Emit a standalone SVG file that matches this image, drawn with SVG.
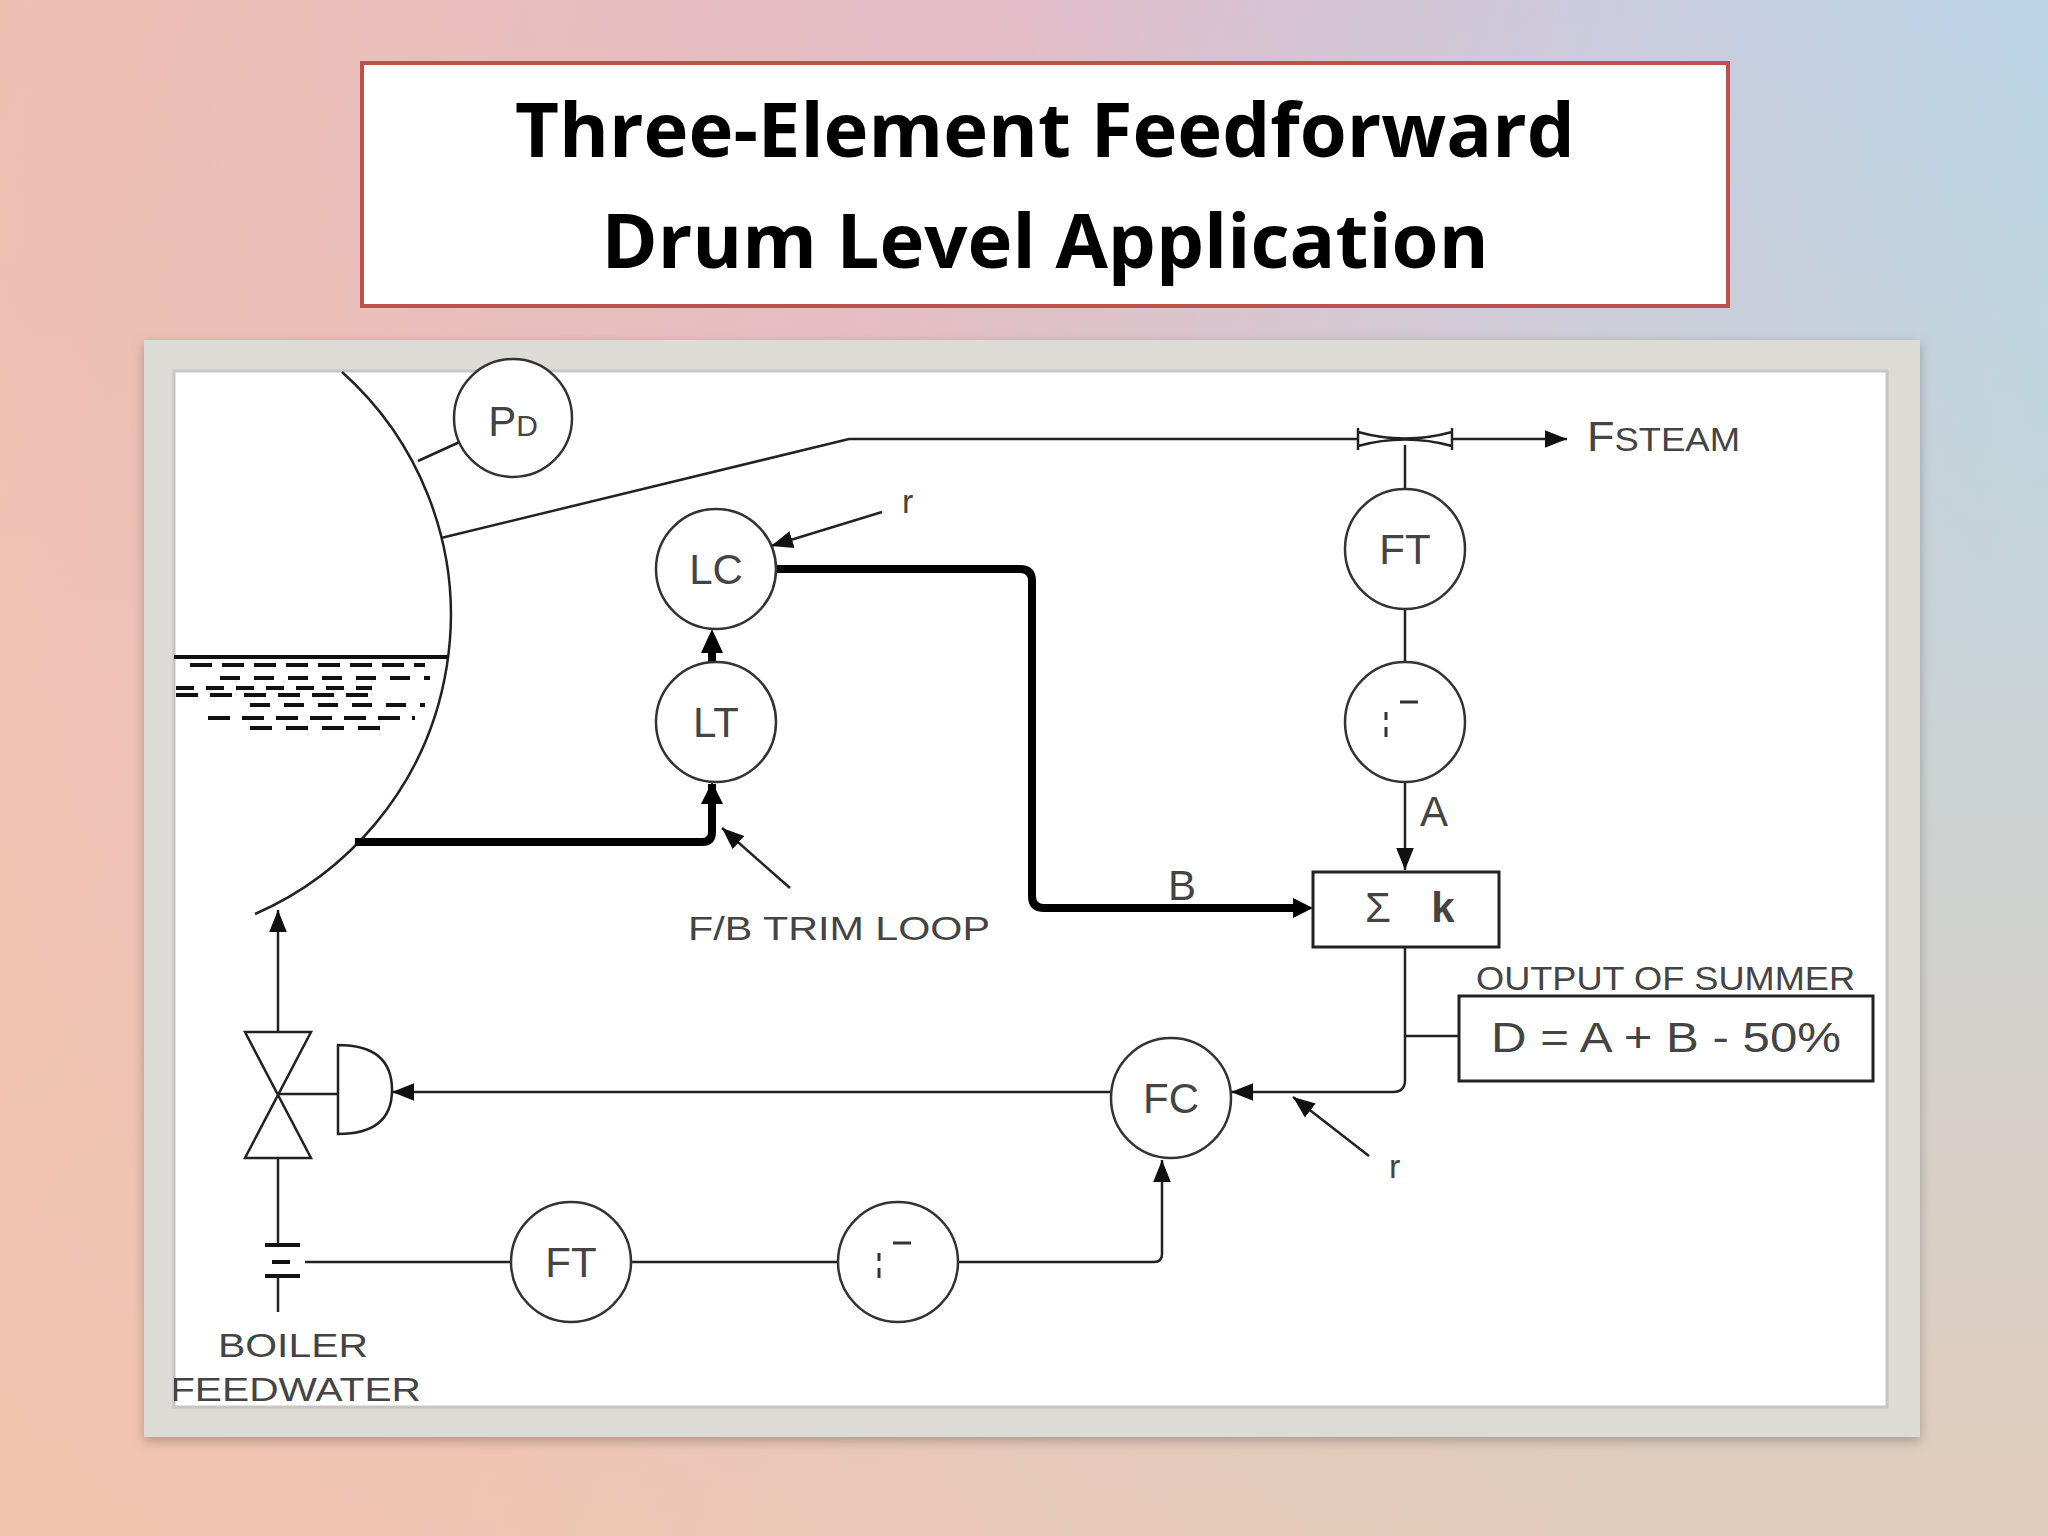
<svg xmlns="http://www.w3.org/2000/svg" width="2048" height="1536" viewBox="0 0 2048 1536">
<defs>
<linearGradient id="bg" x1="0" y1="0" x2="1" y2="0.3">
<stop offset="0" stop-color="#efc0b2"/><stop offset="0.45" stop-color="#e3bcc8"/><stop offset="0.75" stop-color="#c8cde0"/><stop offset="1" stop-color="#b4d8ea"/>
</linearGradient>
<linearGradient id="bg2" x1="0" y1="0" x2="0" y2="1">
<stop offset="0" stop-color="#f6c8a8" stop-opacity="0"/><stop offset="1" stop-color="#f6c8a8" stop-opacity="0.7"/>
</linearGradient>
<marker id="ahs" viewBox="0 0 10 10" refX="10" refY="5" markerWidth="22" markerHeight="22" markerUnits="userSpaceOnUse" orient="auto"><path d="M0,1L10,5L0,9z" fill="#111"/></marker>
<clipPath id="inner"><rect x="174" y="371" width="1713" height="1036"/></clipPath>
<filter id="sh" x="-5%" y="-5%" width="110%" height="110%"><feDropShadow dx="0" dy="4" stdDeviation="6" flood-color="#000" flood-opacity="0.25"/></filter>
</defs>
<style>
.ln{stroke:#222;stroke-width:2.5;fill:none}
.th{stroke:#000;stroke-width:8;fill:none;stroke-linejoin:round}
.ci{stroke:#333;stroke-width:2.5;fill:#fff}
.lb{font-family:"Liberation Sans",Arial,sans-serif;fill:#444;font-size:42px;text-anchor:middle}
.sm{font-family:"Liberation Sans",Arial,sans-serif;fill:#444;font-size:34px}
</style>
<rect width="2048" height="1536" fill="url(#bg)"/>
<rect width="2048" height="1536" fill="url(#bg2)"/>
<g id="title">
<rect x="362" y="63" width="1366" height="243" fill="#fff" stroke="#c0504d" stroke-width="4"/>
<text x="1045" y="157" font-family="Open Sans,'Liberation Sans',sans-serif" font-weight="bold" font-size="76" text-anchor="middle" fill="#000">Three-Element Feedforward</text>
<text x="1045" y="268" font-family="Open Sans,'Liberation Sans',sans-serif" font-weight="bold" font-size="76" text-anchor="middle" fill="#000">Drum Level Application</text>
</g>
<rect x="144" y="340" width="1776" height="1097" fill="#dddbd6" filter="url(#sh)"/>
<rect x="174" y="371" width="1713" height="1036" fill="#fff" stroke="#c8c6c2" stroke-width="3"/>
<g id="drum" clip-path="url(#inner)">
<path class="ln" d="M342,372 A326,326 0 0 1 255,914"/>
<line x1="174" y1="657" x2="449" y2="657" stroke="#111" stroke-width="4"/>
<g stroke="#111" stroke-width="4">
<line x1="190" y1="665" x2="425" y2="665" stroke-dasharray="22,10"/>
<line x1="220" y1="678" x2="430" y2="678" stroke-dasharray="20,14"/>
<line x1="176" y1="688" x2="372" y2="688" stroke-dasharray="18,12"/>
<line x1="176" y1="695" x2="380" y2="695" stroke-dasharray="22,12"/>
<line x1="250" y1="705" x2="425" y2="705" stroke-dasharray="20,14"/>
<line x1="208" y1="718" x2="415" y2="718" stroke-dasharray="22,12"/>
<line x1="250" y1="728" x2="385" y2="728" stroke-dasharray="22,14"/>
</g>
</g>
<g id="connectors">
<line class="ln" x1="418" y1="461" x2="464" y2="440"/>
<polyline class="ln" points="441,538 849,439 1358,439"/>
<line class="ln" x1="1452" y1="439" x2="1567" y2="439" marker-end="url(#ahs)"/>
<line class="ln" x1="1405" y1="445" x2="1405" y2="489"/>
<line class="ln" x1="1405" y1="609" x2="1405" y2="662"/>
<line class="ln" x1="1405" y1="782" x2="1405" y2="870" marker-end="url(#ahs)"/>
<path class="th" d="M355,842 H702 Q712,842 712,832 V784"/>
<path d="M712,782 l-11,22 h22z" fill="#000"/>
<line class="th" x1="712" y1="662" x2="712" y2="650"/>
<path d="M712,629 l-11,24 h22z" fill="#000"/>
<path class="th" d="M776,569 H1020 Q1032,569 1032,581 V896 Q1032,908 1044,908 H1296"/>
<path d="M1313,908 l-20,-10 v20z" fill="#000"/>
<line class="ln" x1="882" y1="512" x2="771" y2="546" marker-end="url(#ahs)"/>
<line class="ln" x1="790" y1="888" x2="722" y2="828" marker-end="url(#ahs)"/>
<path class="ln" d="M1405,947 V1080 Q1405,1092 1393,1092 H1231" marker-end="url(#ahs)"/>
<line class="ln" x1="1405" y1="1036" x2="1459" y2="1036"/>
<line class="ln" x1="1369" y1="1156" x2="1293" y2="1097" marker-end="url(#ahs)"/>
<line class="ln" x1="1111" y1="1092" x2="392" y2="1092" marker-end="url(#ahs)"/>
<line class="ln" x1="278" y1="1094" x2="338" y2="1094"/>
<line class="ln" x1="278" y1="1032" x2="278" y2="910" marker-end="url(#ahs)"/>
<line class="ln" x1="278" y1="1158" x2="278" y2="1245"/>
<line class="ln" x1="278" y1="1276" x2="278" y2="1312"/>
<line class="ln" x1="305" y1="1262" x2="511" y2="1262"/>
<line class="ln" x1="631" y1="1262" x2="838" y2="1262"/>
<path class="ln" d="M958,1262 H1154 Q1162,1262 1162,1254 V1160" marker-end="url(#ahs)"/>
</g>
<g id="venturi"><path class="ln" d="M1358,428 V450 M1358,432 Q1405,445 1452,432 M1358,446 Q1405,433 1452,446 M1452,428 V450" fill="#fff"/></g>
<g id="PD"><circle class="ci" cx="513" cy="418" r="59"/><text class="lb" x="513" y="436">P<tspan font-size="30">D</tspan></text></g>
<g id="LC"><circle class="ci" cx="716" cy="569" r="60"/><text class="lb" x="716" y="584">LC</text></g>
<g id="LT"><circle class="ci" cx="716" cy="722" r="60"/><text class="lb" x="716" y="737">LT</text></g>
<g id="FT1"><circle class="ci" cx="1405" cy="549" r="60"/><text class="lb" x="1405" y="564">FT</text></g>
<g id="SQ1"><circle class="ci" cx="1405" cy="722" r="60"/><path d="M1386,712 v8 M1386,727 v10 M1400,702 h18" stroke="#333" stroke-width="3"/></g>
<g id="sum"><rect x="1313" y="872" width="186" height="75" fill="#fff" stroke="#222" stroke-width="3"/><text class="lb" x="1378" y="922">Σ</text><text class="lb" x="1443" y="922" font-weight="bold">k</text></g>
<g id="out"><rect x="1459" y="996" width="414" height="85" fill="#fff" stroke="#222" stroke-width="3"/><text class="lb" x="1666" y="1052" textLength="350" lengthAdjust="spacingAndGlyphs">D = A + B - 50%</text>
<text class="sm" x="1476" y="990" font-size="31" textLength="379" lengthAdjust="spacingAndGlyphs">OUTPUT OF SUMMER</text></g>
<g id="FC"><circle class="ci" cx="1171" cy="1098" r="60"/><text class="lb" x="1171" y="1113">FC</text></g>
<g id="FT2"><circle class="ci" cx="571" cy="1262" r="60"/><text class="lb" x="571" y="1277">FT</text></g>
<g id="SQ2"><circle class="ci" cx="898" cy="1262" r="60"/><path d="M879,1253 v8 M879,1268 v10 M893,1243 h18" stroke="#333" stroke-width="3"/></g>
<g id="valve"><path class="ln" d="M245,1032 H311 L245,1158 H311 Z"/><path class="ln" d="M338,1045 Q392,1045 392,1090 Q392,1134 338,1134 Z"/></g>
<g id="orifice"><path d="M265,1245 h35 M265,1276 h35 M272,1262 h18" stroke="#111" stroke-width="4"/></g>
<g id="labels">
<text class="lb" x="1587" y="451" style="text-anchor:start" textLength="153" lengthAdjust="spacingAndGlyphs">F<tspan font-size="34">STEAM</tspan></text>
<text class="lb" x="1434" y="826">A</text>
<text class="lb" x="1182" y="900">B</text>
<text class="sm" x="902" y="513">r</text>
<text class="sm" x="1389" y="1178">r</text>
<text class="sm" x="688" y="940" textLength="302" lengthAdjust="spacingAndGlyphs">F/B TRIM LOOP</text>
<g clip-path="url(#inner)"><text class="sm" x="218" y="1357" textLength="150" lengthAdjust="spacingAndGlyphs">BOILER</text><text class="sm" x="170" y="1401" textLength="251" lengthAdjust="spacingAndGlyphs">FEEDWATER</text></g>
</g>
</svg>
